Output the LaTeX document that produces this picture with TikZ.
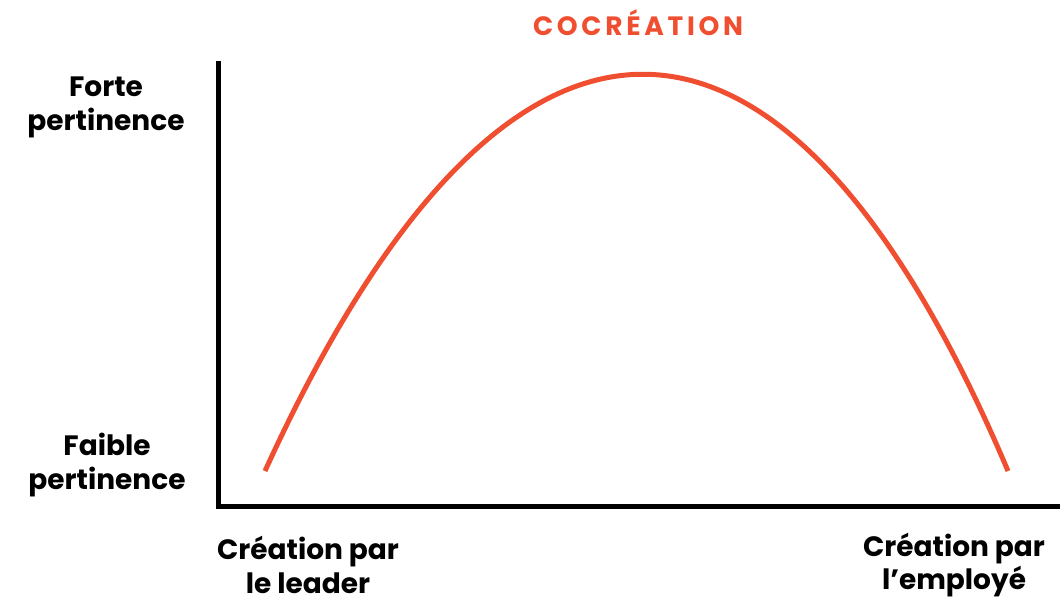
\documentclass[tikz,border=0pt]{standalone}
\usepackage{fontspec}
\setmainfont{Poppins}
\newfontfamily\titlefont[LetterSpace=14]{Poppins}
\definecolor{curveorange}{HTML}{F04E30}
\begin{document}
\begin{tikzpicture}[x=1pt,y=-1pt,
  axislabel/.style={font=\fontsize{28}{33.5}\selectfont\bfseries, align=center, inner sep=0pt, text=black},
  axisline/.style={line width=5pt, line join=miter},
  arc/.style={line width=5pt, draw=curveorange}]
  \useasboundingbox (0,0) rectangle (1060,599);
  % axes
  \coordinate (top) at (218.5,61);
  \coordinate (origin) at (218.5,506.5);
  \coordinate (xend) at (1060,506.5);
  \draw[axisline] (top) -- (origin) -- (xend);
  % curve
  \coordinate (start) at (265,471);
  \coordinate (finish) at (1008,471);
  \draw[arc] (start) .. controls (506,-58) and (784,-58) .. (finish);
  % title
  \node[font=\titlefont\fontsize{26.5}{30}\selectfont\bfseries, text=curveorange, inner sep=0pt] (title) at (638,22.5) {COCRÉATION};
  % y labels
  \node[axislabel] (high) at (106,107.5) {Forte\\pertinence};
  \node[axislabel] (low) at (107,465) {Faible\\pertinence};
  % x labels
  \node[axislabel] (leader) at (308,565) {Création par\\le leader};
  \node[axislabel] (employee) at (954,565) {Création par\\l’employé};
\end{tikzpicture}
\end{document}
